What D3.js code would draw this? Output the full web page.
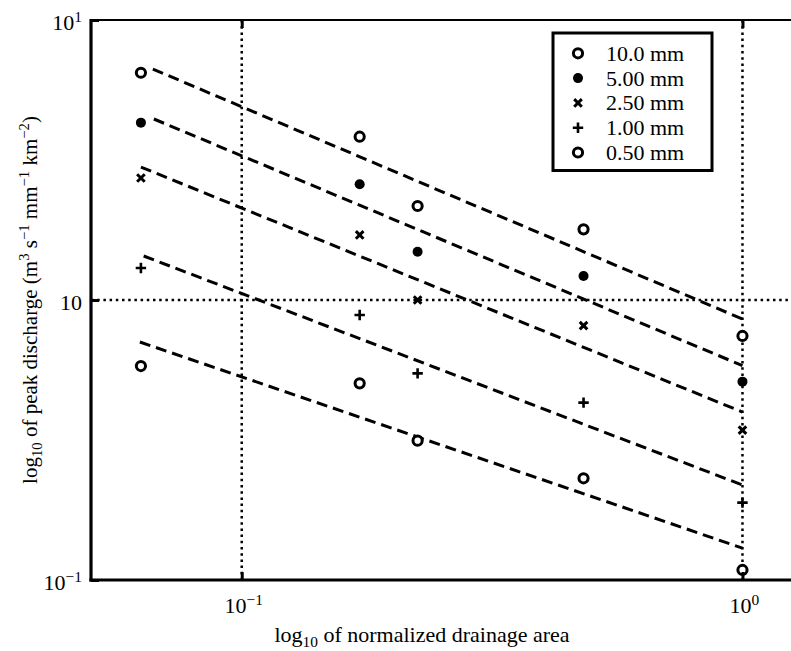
<!DOCTYPE html>
<html>
<head>
<meta charset="utf-8">
<script src="https://cdn.jsdelivr.net/npm/d3@7"></script>
<style>
  body { margin: 0; background: #fff; }
  svg { display: block; }
  text { font-family: "Liberation Serif", "Times New Roman", serif; fill: #000; }
</style>
</head>
<body>
<svg id="chart" width="791" height="651"></svg>
<script>
// Normalized drainage area of each catchment
const areas = [0.0629, 0.172, 0.2245, 0.4815, 1.0];

// Peak discharge per rainfall depth (m3 s-1 mm-1 km-2)
const seriesNames = ["10.0 mm", "5.00 mm", "2.50 mm", "1.00 mm", "0.50 mm"];
const seriesMarkers = ["ring", "dot", "cross", "plus", "ring"];
const q10mm  = [6.48, 3.83, 2.166, 1.788, 0.744];
const q5mm   = [4.30, 2.59, 1.487, 1.218, 0.511];
const q2_5mm = [2.727, 1.707, 1.0, 0.81, 0.343];
const q1mm   = [1.301, 0.884, 0.547, 0.43, 0.189];
const q0_5mm = [0.581, 0.504, 0.3145, 0.2308, 0.1086];

// Power-law fits: start area, value at start, value at area = 1
const fitStartArea = [0.06645, 0.06676, 0.0629, 0.0637, 0.0626];
const fitStartQ    = [6.68, 4.43, 2.985, 1.436, 0.708];
const fitEndArea   = [1.0, 1.0, 1.0, 1.0, 1.0];
const fitEndQ      = [0.855, 0.583, 0.398, 0.2184, 0.130];

// Axis ticks and their labels (base, exponent)
const xTicks = [0.1, 1];
const xTickLabels = [["10", "−1"], ["10", "0"]];
const yTicks = [10, 1, 0.1];
const yTickLabels = [["10", "1"], ["10", ""], ["10", "−1"]];

const seriesValues = [q10mm, q5mm, q2_5mm, q1mm, q0_5mm];

const W = 791, H = 651;
const plot = { left: 91, right: 791, top: 20, bottom: 580 };

const svg = d3.select("#chart");
svg.append("rect").attr("width", W).attr("height", H).attr("fill", "#fff");

const x = d3.scaleLog().domain([0.05, 1.25]).range([plot.left, plot.right]);
const y = d3.scaleLog().domain([0.1, 10]).range([plot.bottom, plot.top]);

// Dotted grid at the major decades
const grid = svg.append("g")
  .attr("stroke", "#000").attr("stroke-width", 2.5)
  .attr("stroke-dasharray", "2.5,3.7").attr("fill", "none");
xTicks.forEach(v => {
  grid.append("line").attr("x1", x(v)).attr("x2", x(v))
    .attr("y1", plot.top).attr("y2", plot.bottom);
});
yTicks.filter(v => v > 0.1 && v < 10).forEach(v => {
  grid.append("line").attr("x1", plot.left).attr("x2", plot.right)
    .attr("y1", y(v)).attr("y2", y(v));
});

// Fitted power-law lines
const fitLine = d3.line().x(d => x(d[0])).y(d => y(d[1]));
const fits = svg.append("g").attr("fill", "none").attr("stroke", "#000")
  .attr("stroke-width", 3).attr("stroke-dasharray", "11,6");
seriesNames.forEach((name, i) => {
  fits.append("path").attr("d", fitLine([
    [fitStartArea[i], fitStartQ[i]],
    [fitEndArea[i], fitEndQ[i]]
  ]));
});

// Marker shapes
function drawMarker(g, type, cx, cy) {
  if (type === "ring") {
    g.append("circle").attr("cx", cx).attr("cy", cy).attr("r", 4.6)
      .attr("fill", "#fff").attr("stroke", "#000").attr("stroke-width", 3);
  } else if (type === "dot") {
    g.append("circle").attr("cx", cx).attr("cy", cy).attr("r", 5)
      .attr("fill", "#000");
  } else if (type === "cross") {
    const s = 3.8;
    g.append("path")
      .attr("d", `M${cx - s},${cy - s}L${cx + s},${cy + s}M${cx - s},${cy + s}L${cx + s},${cy - s}`)
      .attr("stroke", "#000").attr("stroke-width", 3).attr("fill", "none");
  } else if (type === "plus") {
    const s = 5.2;
    g.append("path")
      .attr("d", `M${cx - s},${cy}L${cx + s},${cy}M${cx},${cy - s}L${cx},${cy + s}`)
      .attr("stroke", "#000").attr("stroke-width", 2.6).attr("fill", "none");
  }
}

const pts = svg.append("g");
seriesValues.forEach((vals, i) => {
  vals.forEach((v, j) => drawMarker(pts, seriesMarkers[i], x(areas[j]), y(v)));
});

// Axes: inward ticks, labels drawn separately for superscripts
const xAxisBottom = d3.axisBottom(x).tickValues(xTicks).tickSizeInner(-8).tickSizeOuter(0).tickFormat(() => "");
const xAxisTop = d3.axisTop(x).tickValues(xTicks).tickSizeInner(-8).tickSizeOuter(0).tickFormat(() => "");
const yAxisLeft = d3.axisLeft(y).tickValues(yTicks).tickSizeInner(-8).tickSizeOuter(0).tickFormat(() => "");

function styleAxis(g) {
  g.select(".domain").remove();
  g.selectAll(".tick line").attr("stroke", "#000").attr("stroke-width", 3);
  g.selectAll(".tick text").remove();
}
svg.append("g").attr("transform", `translate(0,${plot.bottom})`).call(xAxisBottom).call(styleAxis);
svg.append("g").attr("transform", `translate(0,${plot.top})`).call(xAxisTop).call(styleAxis);
svg.append("g").attr("transform", `translate(${plot.left},0)`).call(yAxisLeft).call(styleAxis);

// Frame: heavy left and bottom, thin top
svg.append("line").attr("x1", plot.left).attr("x2", plot.right)
  .attr("y1", plot.top).attr("y2", plot.top)
  .attr("stroke", "#000").attr("stroke-width", 2);
svg.append("line").attr("x1", plot.left).attr("x2", plot.left)
  .attr("y1", plot.top - 1).attr("y2", plot.bottom + 1.5)
  .attr("stroke", "#000").attr("stroke-width", 3.2);
svg.append("line").attr("x1", plot.left - 1.6).attr("x2", plot.right)
  .attr("y1", plot.bottom).attr("y2", plot.bottom)
  .attr("stroke", "#000").attr("stroke-width", 3);

// Rich text helper (subscripts / superscripts)
function richText(sel, parts, base) {
  let cur = 0;
  parts.forEach(p => {
    const shift = p.sub ? 5 : p.sup ? -8 : 0;
    const ts = sel.append("tspan").attr("dy", shift - cur).text(p.t);
    if (p.sub || p.sup) ts.attr("font-size", base * 0.7);
    cur = shift;
  });
}

const FS = 22;
xTicks.forEach((v, i) => {
  const t = svg.append("text").attr("x", x(v) + 2).attr("y", plot.bottom + 33)
    .attr("text-anchor", "middle").attr("font-size", FS);
  const lab = xTickLabels[i];
  richText(t, [{ t: lab[0] }, { t: lab[1], sup: true }], FS);
});
yTicks.forEach((v, i) => {
  const t = svg.append("text").attr("x", 82).attr("y", y(v) + 10)
    .attr("text-anchor", "end").attr("font-size", FS);
  const lab = yTickLabels[i];
  const parts = [{ t: lab[0] }];
  if (lab[1]) parts.push({ t: lab[1], sup: true });
  richText(t, parts, FS);
});

// Axis titles
const xTitle = svg.append("text").attr("x", 422).attr("y", 642)
  .attr("text-anchor", "middle").attr("font-size", FS);
richText(xTitle, [{ t: "log" }, { t: "10", sub: true }, { t: " of normalized drainage area" }], FS);

const yTitle = svg.append("text").attr("transform", "translate(37,300) rotate(-90)")
  .attr("text-anchor", "middle").attr("font-size", FS - 1);
richText(yTitle, [
  { t: "log" }, { t: "10", sub: true }, { t: " of peak discharge (m" },
  { t: "3", sup: true }, { t: " s" }, { t: "−1", sup: true },
  { t: " mm" }, { t: "−1", sup: true }, { t: " km" }, { t: "−2", sup: true }, { t: ")" }
], FS - 1);

// Legend
const leg = { x: 553, y: 33, w: 159, rowH: 24.8, firstRow: 53.3 };
const legG = svg.append("g");
legG.append("rect").attr("x", leg.x).attr("y", leg.y).attr("width", leg.w)
  .attr("height", leg.firstRow - leg.y + leg.rowH * (seriesNames.length - 1) + 18)
  .attr("fill", "#fff").attr("stroke", "#000").attr("stroke-width", 3);
seriesNames.forEach((name, i) => {
  const cy = leg.firstRow + i * leg.rowH;
  drawMarker(legG, seriesMarkers[i], 578, cy);
  legG.append("text").attr("x", 606).attr("y", cy + 7.5).attr("font-size", FS).text(name);
});
</script>
</body>
</html>
